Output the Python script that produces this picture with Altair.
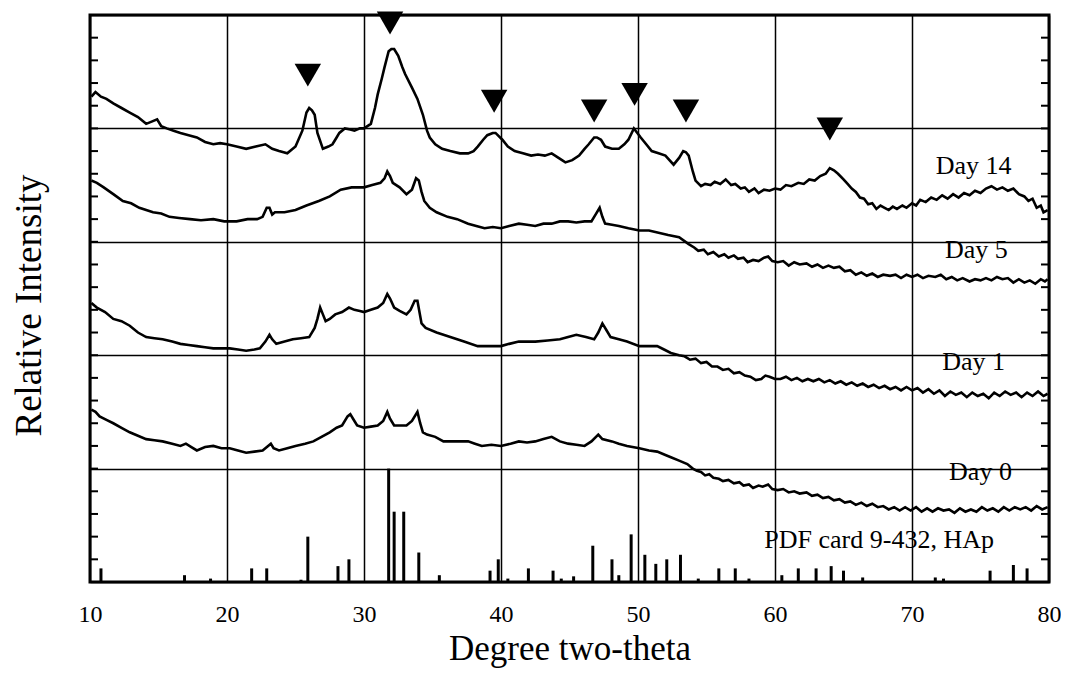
import altair as alt
import pandas as pd

# ---- Day 14 trace (degree two-theta, relative intensity) ----
day14_x = [10.1, 10.4, 10.8, 11.2, 11.7, 12.3, 12.9, 13.5, 14.1, 14.5, 14.9, 15.2, 15.6, 16.1, 16.6, 17.2,
           17.8, 18.4, 19.0, 19.5, 20.0, 20.7, 21.4, 22.1, 22.8, 23.3, 23.8, 24.4, 25.0, 25.5, 25.8, 26.0,
           26.2, 26.4, 26.6, 27.0, 27.4, 27.7, 28.0, 28.2, 28.6, 29.0, 29.3, 29.7, 30.0, 30.5, 30.8, 31.0,
           31.3, 31.5, 31.8, 32.0, 32.2, 32.5, 32.8, 33.0, 33.5, 33.9, 34.3, 34.6, 34.8, 35.2, 35.7, 36.3,
           37.0, 37.6, 38.0, 38.3, 38.7, 39.0, 39.4, 39.6, 40.1, 40.5, 41.0, 41.6, 42.2, 42.7, 43.2, 43.7,
           44.2, 44.7, 45.2, 45.7, 46.1, 46.4, 46.8, 47.0, 47.3, 47.6, 48.1, 48.6, 49.0, 49.3, 49.7, 50.2,
           50.6, 51.0, 51.5, 52.0, 52.6, 53.0, 53.3, 53.5, 53.7, 54.0,
           54.2, 54.6, 54.9, 55.3, 55.6, 56.0, 56.4, 56.8, 57.1, 57.5, 57.8, 58.1, 58.5, 58.8, 59.2, 59.6,
           60.0, 60.4, 60.8, 61.2, 61.7, 62.1, 62.5, 62.9, 63.3, 63.7, 64.0, 64.3, 64.6, 65.0, 65.3, 65.6,
           65.9, 66.2, 66.5, 66.8, 67.1, 67.4, 67.7, 68.0, 68.3, 68.6, 68.9, 69.3, 69.6, 70.0, 70.3, 70.6,
           71.0, 71.4, 71.8, 72.2, 72.6, 73.0, 73.4, 73.8, 74.2, 74.6, 75.0, 75.4, 75.8, 76.2, 76.6, 77.0,
           77.4, 77.8, 78.2, 78.5, 78.8, 79.1, 79.4, 79.6, 79.9]
day14_y = [21.4, 21.6, 21.4, 21.3, 21.1, 20.9, 20.7, 20.5, 20.2, 20.3, 20.4, 20.1, 20.0, 19.9, 19.8, 19.7,
           19.6, 19.4, 19.3, 19.35, 19.3, 19.2, 19.1, 19.2, 19.3, 19.1, 19.0, 18.9, 19.2, 19.9, 20.7, 20.9,
           20.8, 20.6, 19.8, 19.1, 19.2, 19.3, 19.6, 19.8, 20.0, 19.95, 19.9, 20.0, 20.0, 20.2, 20.9, 21.5,
           22.2, 22.7, 23.4, 23.5, 23.5, 23.2, 22.7, 22.4, 21.8, 21.3, 20.6, 19.9, 19.6, 19.3, 19.1, 19.0,
           18.9, 18.9, 19.0, 19.2, 19.5, 19.7, 19.8, 19.8, 19.5, 19.2, 19.0, 18.9, 18.8, 18.85, 18.8, 18.9,
           18.7, 18.5, 18.6, 18.8, 19.1, 19.3, 19.6, 19.6, 19.5, 19.2, 19.1, 19.1, 19.3, 19.5, 20.0, 19.6,
           19.3, 19.0, 18.9, 18.8, 18.4, 18.7, 19.0, 18.95, 18.8, 18.1,
           17.7, 17.45, 17.55, 17.5, 17.65, 17.55, 17.75, 17.5, 17.55, 17.35, 17.4, 17.2, 17.35, 17.15, 17.3, 17.25,
           17.35, 17.3, 17.5, 17.45, 17.6, 17.55, 17.75, 17.7, 17.9, 18.0, 18.25, 18.15, 18.0, 17.75, 17.55, 17.35,
           17.2, 16.95, 16.9, 16.65, 16.7, 16.45, 16.6, 16.5, 16.4, 16.55, 16.45, 16.6, 16.5, 16.7, 16.6, 16.85,
           16.75, 16.95, 16.85, 17.05, 16.9, 17.1, 16.95, 17.15, 17.05, 17.25, 17.15, 17.35, 17.45, 17.3, 17.4, 17.25,
           17.35, 17.1, 17.0, 16.8, 16.9, 16.5, 16.6, 16.3, 16.4]

# ---- Day 5 trace ----
day5_x = [10.1, 10.5, 11.0, 11.7, 12.4, 13.0, 13.6, 14.1, 14.6, 15.2, 15.8, 16.5, 17.3, 18.1, 19.0, 19.8,
          20.7, 21.5, 22.2, 22.6, 22.9, 23.1, 23.3, 23.5, 24.2, 25.0, 25.8, 26.7, 27.5, 28.3, 29.1, 30.0,
          30.6, 31.2, 31.5, 31.7, 31.9, 32.1, 32.6, 33.1, 33.5, 33.8, 34.0, 34.2, 34.4, 34.8, 35.3, 36.1,
          36.8, 37.6, 38.2, 38.8, 39.4, 40.0, 40.6, 41.3, 41.9, 42.5, 43.1, 43.7, 44.3, 44.9, 45.5, 46.1,
          46.6, 46.9, 47.2, 47.4, 47.6, 48.1, 48.6, 49.3, 50.1, 50.8, 51.5, 52.2, 53.0,
          53.7, 54.1, 54.4, 54.8, 55.1, 55.5, 55.9, 56.3, 56.6, 57.0, 57.3, 57.7, 58.0, 58.4, 58.8, 59.2,
          59.5, 59.8, 60.2, 60.6, 61.0, 61.4, 61.8, 62.3, 62.7, 63.1, 63.5, 63.9, 64.3, 64.7, 65.1, 65.5,
          65.9, 66.3, 66.7, 67.1, 67.5, 67.9, 68.4, 68.8, 69.2, 69.6, 70.0, 70.4, 70.8, 71.2, 71.7, 72.1,
          72.5, 72.9, 73.3, 73.7, 74.2, 74.6, 75.0, 75.4, 75.8, 76.2, 76.6, 77.0, 77.4, 77.8, 78.2, 78.6,
          79.0, 79.4, 79.7, 79.9]
day5_y = [17.7, 17.6, 17.4, 17.1, 16.8, 16.7, 16.5, 16.4, 16.3, 16.25, 16.1, 16.05, 16.0, 15.95, 16.0, 15.9,
          15.9, 16.0, 16.0, 16.1, 16.5, 16.5, 16.2, 16.3, 16.3, 16.4, 16.6, 16.8, 17.0, 17.3, 17.4, 17.4,
          17.5, 17.6, 17.8, 18.1, 17.9, 17.6, 17.4, 17.1, 17.3, 17.8, 17.7, 17.2, 16.8, 16.5, 16.3, 16.1,
          16.0, 15.8, 15.7, 15.6, 15.65, 15.6, 15.7, 15.8, 15.75, 15.7, 15.8, 15.8, 15.9, 15.9, 15.85, 15.9,
          15.9, 16.2, 16.5, 16.1, 15.8, 15.75, 15.7, 15.6, 15.5, 15.5, 15.4, 15.3, 15.2,
          14.9, 14.75, 14.6, 14.65, 14.45, 14.55, 14.35, 14.45, 14.3, 14.4, 14.25, 14.3, 14.1, 14.2, 14.15, 14.3,
          14.35, 14.15, 14.1, 14.15, 13.95, 14.1, 14.0, 14.05, 13.9, 14.0, 13.85, 13.95, 13.85, 13.9, 13.7, 13.75,
          13.55, 13.65, 13.5, 13.6, 13.45, 13.55, 13.5, 13.55, 13.4, 13.55, 13.45, 13.55, 13.4, 13.5, 13.45, 13.55,
          13.35, 13.45, 13.3, 13.4, 13.25, 13.35, 13.3, 13.4, 13.3, 13.45, 13.35, 13.4, 13.2, 13.35, 13.2, 13.3,
          13.15, 13.35, 13.25, 13.35]

# ---- Day 1 trace ----
day1_x = [10.1, 10.5, 11.1, 11.7, 12.3, 12.9, 13.5, 14.1, 14.7, 15.3, 16.0, 16.6, 17.2, 17.8, 18.4, 19.0,
          19.6, 20.2, 20.8, 21.4, 22.0, 22.4, 22.8, 23.1, 23.3, 23.6, 24.2, 24.8, 25.4, 26.0, 26.4, 26.6,
          26.8, 27.0, 27.2, 27.5, 27.9, 28.4, 28.9, 29.3, 29.7, 30.0, 30.5, 31.0, 31.4, 31.7, 31.9, 32.2,
          32.6, 33.1, 33.4, 33.7, 33.9, 34.2, 34.5, 35.3, 36.3, 37.3, 38.3, 39.2, 40.0, 40.6, 41.3, 41.9,
          42.5, 43.4, 44.3, 44.9, 45.5, 46.2, 46.8, 47.1, 47.4, 47.7, 48.0, 48.6, 49.2, 50.1, 50.7, 51.4,
          51.9, 52.4,
          53.0, 53.4, 53.8, 54.2, 54.6, 55.0, 55.4, 55.8, 56.2, 56.6, 57.0, 57.4, 57.8, 58.2, 58.6, 59.0,
          59.3, 59.6, 60.0, 60.4, 60.8, 61.2, 61.6, 62.0, 62.4, 62.8, 63.2, 63.6, 64.0, 64.4, 64.8, 65.2,
          65.6, 66.0, 66.4, 66.8, 67.2, 67.6, 68.0, 68.4, 68.8, 69.2, 69.6, 70.0, 70.4, 70.8, 71.2, 71.6,
          72.0, 72.4, 72.8, 73.2, 73.6, 74.0, 74.4, 74.8, 75.2, 75.6, 76.0, 76.4, 76.8, 77.2, 77.6, 78.0,
          78.4, 78.8, 79.2, 79.6, 79.9]
day1_y = [12.3, 12.1, 11.9, 11.6, 11.5, 11.3, 11.0, 10.8, 10.75, 10.7, 10.6, 10.5, 10.45, 10.4, 10.35, 10.3,
          10.3, 10.3, 10.25, 10.2, 10.25, 10.3, 10.6, 10.9, 10.7, 10.5, 10.6, 10.7, 10.75, 10.8, 11.2, 11.6,
          12.1, 11.8, 11.5, 11.6, 11.8, 11.9, 12.1, 12.0, 11.95, 11.9, 12.0, 12.1, 12.3, 12.7, 12.5, 12.1,
          11.95, 11.8, 12.0, 12.4, 12.4, 11.4, 11.2, 11.0, 10.8, 10.6, 10.4, 10.4, 10.4, 10.5, 10.6, 10.6,
          10.6, 10.65, 10.7, 10.8, 10.9, 10.8, 10.7, 11.0, 11.4, 11.1, 10.8, 10.7, 10.6, 10.4, 10.4, 10.4,
          10.25, 10.1,
          10.0, 9.95, 9.8, 9.85, 9.65, 9.7, 9.5, 9.5, 9.35, 9.4, 9.2, 9.25, 9.1, 9.05, 8.9, 8.95,
          9.1, 9.05, 8.95, 8.95, 9.05, 8.9, 9.0, 8.85, 8.95, 8.85, 8.95, 8.8, 8.9, 8.75, 8.85, 8.7,
          8.8, 8.65, 8.75, 8.6, 8.7, 8.55, 8.65, 8.5, 8.6, 8.45, 8.6, 8.45, 8.55, 8.35, 8.5, 8.3,
          8.45, 8.2, 8.4, 8.25, 8.35, 8.15, 8.35, 8.2, 8.3, 8.1, 8.35, 8.2, 8.4, 8.25, 8.35, 8.15,
          8.35, 8.2, 8.4, 8.2, 8.3]

# ---- Day 0 trace ----
day0_x = [10.1, 10.4, 10.7, 11.2, 11.7, 12.3, 12.9, 13.5, 14.1, 14.7, 15.3, 16.0, 16.6, 17.0, 17.4, 17.8,
          18.4, 19.0, 19.6, 20.2, 20.8, 21.4, 22.0, 22.6, 23.0, 23.2, 23.4, 23.8, 24.4, 25.0, 25.7, 26.3,
          26.9, 27.5, 28.0, 28.4, 28.8, 29.0, 29.2, 29.5, 30.0, 30.5, 31.0, 31.4, 31.7, 31.9, 32.2, 32.7,
          33.1, 33.5, 33.9, 34.1, 34.3, 34.6, 35.2, 35.8, 36.7, 37.6, 38.1, 38.6, 39.3, 40.0, 40.7, 41.3,
          41.9, 42.5, 43.1, 43.7, 44.3, 44.9, 45.5, 46.1, 46.6, 47.1, 47.4, 48.1, 48.6, 49.2, 50.1, 50.8,
          51.4, 52.0, 52.4, 53.0,
          53.6, 54.0, 54.3, 54.6, 54.9, 55.2, 55.5, 55.9, 56.2, 56.6, 57.0, 57.4, 57.7, 58.1, 58.4, 58.8,
          59.1, 59.5, 59.8, 60.2, 60.6, 61.0, 61.4, 61.8, 62.3, 62.7, 63.1, 63.5, 63.9, 64.3, 64.7, 65.1,
          65.5, 65.9, 66.3, 66.7, 67.1, 67.5, 67.9, 68.3, 68.7, 69.1, 69.5, 69.9, 70.3, 70.7, 71.1, 71.5,
          71.9, 72.3, 72.7, 73.1, 73.5, 73.9, 74.3, 74.7, 75.1, 75.5, 75.9, 76.3, 76.7, 77.1, 77.5, 77.9,
          78.3, 78.7, 79.1, 79.5, 79.9]
day0_y = [7.6, 7.5, 7.3, 7.15, 7.0, 6.8, 6.6, 6.45, 6.3, 6.25, 6.2, 6.1, 6.0, 6.1, 5.95, 5.8,
          5.95, 6.0, 5.9, 5.9, 5.8, 5.7, 5.75, 5.8, 6.0, 6.1, 5.9, 5.8, 5.9, 6.0, 6.1, 6.2,
          6.4, 6.6, 6.8, 6.9, 7.3, 7.4, 7.2, 6.9, 6.8, 6.85, 6.9, 7.1, 7.5, 7.2, 6.9, 6.9,
          6.9, 7.1, 7.5, 7.0, 6.6, 6.5, 6.4, 6.2, 6.2, 6.2, 6.1, 6.0, 6.05, 6.0, 6.1, 6.2,
          6.15, 6.2, 6.3, 6.4, 6.2, 6.1, 6.05, 6.0, 6.2, 6.5, 6.3, 6.2, 6.1, 6.0, 5.9, 5.8,
          5.75, 5.6, 5.5, 5.35,
          5.2, 5.0, 4.9, 4.85, 4.7, 4.75, 4.6, 4.55, 4.45, 4.5, 4.35, 4.4, 4.25, 4.3, 4.15, 4.25,
          4.2, 4.3, 4.1, 4.05, 4.1, 3.95, 4.0, 3.9, 3.95, 3.8, 3.85, 3.7, 3.75, 3.6, 3.65, 3.5,
          3.55, 3.4, 3.5, 3.35, 3.45, 3.3, 3.35, 3.2, 3.3, 3.15, 3.3, 3.15, 3.3, 3.1, 3.25, 3.1,
          3.25, 3.15, 3.2, 3.05, 3.25, 3.1, 3.2, 3.1, 3.3, 3.15, 3.25, 3.1, 3.3, 3.15, 3.3, 3.2,
          3.3, 3.15, 3.35, 3.2, 3.3]

# ---- PDF card 9-432 (HAp) reference lines ----
pdf_x = [10.8, 16.9, 18.8, 21.8, 22.9, 25.4, 25.9, 28.1, 28.9, 31.8, 32.2, 32.9, 34.0, 35.5, 39.2, 39.8,
         40.5, 42.0, 43.8, 44.4, 45.3, 46.7, 48.1, 48.6, 49.5, 50.5, 51.3, 52.1, 53.1, 54.4, 55.9, 57.1,
         58.1, 60.5, 61.7, 63.0, 64.1, 65.0, 66.4, 71.7, 72.3, 75.7, 77.4, 78.4]
pdf_h = [0.6, 0.3, 0.15, 0.6, 0.6, 0.1, 2.0, 0.7, 1.0, 5.0, 3.1, 3.1, 1.3, 0.3, 0.5, 1.0,
         0.15, 0.6, 0.5, 0.15, 0.25, 1.6, 1.0, 0.3, 2.1, 1.2, 0.8, 1.0, 1.2, 0.15, 0.6, 0.6,
         0.15, 0.3, 0.6, 0.6, 0.7, 0.5, 0.2, 0.2, 0.15, 0.5, 0.75, 0.6]

# ---- peak markers ----
marker_x = [25.9, 31.9, 39.5, 46.8, 49.75, 53.5, 64.0]
marker_y = [22.35, 24.65, 21.2, 20.77, 21.5, 20.77, 19.97]

# ---- text labels ----
label_text = ["Day 14", "Day 5", "Day 1", "Day 0", "PDF card 9-432, HAp"]
label_x = [74.5, 74.7, 74.5, 75.0, 67.6]
label_y = [18.0, 14.3, 9.35, 4.5, 1.5]

x_ticks = [10, 20, 30, 40, 50, 60, 70, 80]
y_grid = [0, 5, 10, 15, 20, 25]
y_minor = list(range(1, 25))

FONT = "Liberation Serif"
W = 959

frames = []
for name, xs, ys in [("Day 14", day14_x, day14_y), ("Day 5", day5_x, day5_y),
                     ("Day 1", day1_x, day1_y), ("Day 0", day0_x, day0_y)]:
    frames.append(pd.DataFrame({"theta": xs, "intensity": ys, "series": name}))
traces = pd.concat(frames, ignore_index=True)
pdf = pd.DataFrame({"theta": pdf_x, "intensity": pdf_h, "base": [0] * len(pdf_x)})
markers = pd.DataFrame({"theta": marker_x, "intensity": marker_y})
labels = pd.DataFrame({"theta": label_x, "intensity": label_y, "text": label_text})
minor = pd.DataFrame({"intensity": y_minor})

xscale = alt.Scale(domain=[10, 80], nice=False, zero=False)
yscale = alt.Scale(domain=[0, 25], nice=False, zero=False)

x_enc = alt.X("theta:Q", scale=xscale, axis=alt.Axis(
    values=x_ticks, grid=True, gridColor="black", gridWidth=1.5, gridOpacity=1,
    domain=False, ticks=False, tickSize=0, labelFont=FONT, labelFontSize=24, labelColor="black",
    labelPadding=20, labelFlush=False,
    title="Degree two-theta", titleFont=FONT, titleFontSize=35, titleFontWeight="normal",
    titleColor="black", titleX=W / 2, titleY=77, titleBaseline="alphabetic", titleAlign="center"))
y_enc = alt.Y("intensity:Q", scale=yscale, axis=alt.Axis(
    values=y_grid, grid=True, gridColor="black", gridWidth=1.5, gridOpacity=1,
    domain=False, ticks=False, labels=False,
    title="Relative Intensity", titleFont=FONT, titleFontSize=37, titleFontWeight="normal",
    titleColor="black", titleX=-50, titleY=290, titleAngle=270, titleBaseline="alphabetic",
    titleAlign="center"))

lines = alt.Chart(traces).mark_line(color="black", strokeWidth=2.6).encode(
    x=x_enc, y=y_enc, detail="series:N")

sticks = alt.Chart(pdf).mark_rule(color="black", strokeWidth=3).encode(
    x=alt.X("theta:Q", scale=xscale), y=alt.Y("intensity:Q", scale=yscale), y2="base:Q")

tri = alt.Chart(markers).mark_point(shape="triangle-down", filled=True, size=700,
                                    color="black", opacity=1).encode(
    x=alt.X("theta:Q", scale=xscale), y=alt.Y("intensity:Q", scale=yscale))

txt = alt.Chart(labels).mark_text(font=FONT, fontSize=26, align="center",
                                  baseline="alphabetic", color="black").encode(
    x=alt.X("theta:Q", scale=xscale), y=alt.Y("intensity:Q", scale=yscale), text="text:N")

left_ticks = alt.Chart(minor).mark_rule(color="black", strokeWidth=2).encode(
    x=alt.value(0), x2=alt.value(8), y=alt.Y("intensity:Q", scale=yscale))
right_ticks = alt.Chart(minor).mark_rule(color="black", strokeWidth=2).encode(
    x=alt.value(W - 8), x2=alt.value(W), y=alt.Y("intensity:Q", scale=yscale))

chart = alt.layer(lines, sticks, tri, txt, left_ticks, right_ticks).properties(
    width=W, height=567, autosize=alt.AutoSizeParams(type="none"),
    padding={"left": 82, "top": 7, "right": 12, "bottom": 90},
    background="white"
).configure_view(stroke="black", strokeWidth=3)

chart.save("out.html", embed_options={"renderer": "svg", "actions": False})
